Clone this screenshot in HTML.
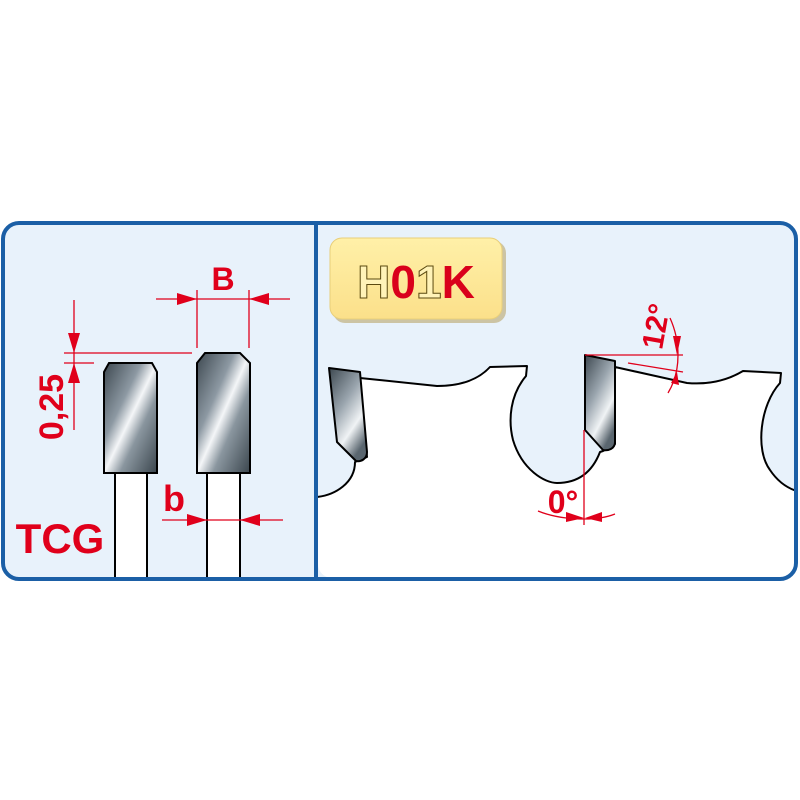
<!DOCTYPE html>
<html><head><style>
html,body{margin:0;padding:0;background:#fff;}
svg{display:block;}
text{font-family:"Liberation Sans",Arial,sans-serif;font-weight:bold;}
</style></head><body>
<svg width="800" height="800" viewBox="0 0 800 800" xmlns="http://www.w3.org/2000/svg">
<defs>
<linearGradient id="steel" x1="0" y1="0" x2="1" y2="1">
<stop offset="0" stop-color="#3d4850"/>
<stop offset="0.35" stop-color="#8d99a3"/>
<stop offset="0.5" stop-color="#f4f6f8"/>
<stop offset="0.65" stop-color="#8a969f"/>
<stop offset="1" stop-color="#3a454d"/>
</linearGradient>
<linearGradient id="steel2" x1="0" y1="0" x2="0.6" y2="1">
<stop offset="0" stop-color="#3d4850"/>
<stop offset="0.45" stop-color="#9aa5ae"/>
<stop offset="0.75" stop-color="#f0f3f5"/>
<stop offset="1" stop-color="#5a666f"/>
</linearGradient>
<linearGradient id="yel" x1="0" y1="0" x2="0" y2="1">
<stop offset="0" stop-color="#fff0a8"/>
<stop offset="1" stop-color="#fbe08a"/>
</linearGradient>
<clipPath id="rc"><rect x="318" y="223" width="477" height="355" rx="14"/></clipPath>
</defs>
<rect x="3" y="223" width="793" height="356" rx="16" fill="#e8f2fb"/>

<!-- LEFT PANEL -->
<g stroke="#000" stroke-width="2">
<rect x="115" y="473" width="32" height="106" fill="#fff"/>
<rect x="207" y="473" width="33" height="106" fill="#fff"/>
<path d="M104 372 L109 363 L152 363 L157 372 L157 473 L104 473 Z" fill="url(#steel)"/>
<path d="M197 363 L205 353 L240 353 L250 363 L250 473 L197 473 Z" fill="url(#steel)"/>
</g>
<g stroke="#e0001b" stroke-width="1.3" fill="none">
<line x1="74" y1="300" x2="74" y2="430"/>
<line x1="64" y1="353" x2="192" y2="353"/>
<line x1="64" y1="363" x2="94" y2="363"/>
<line x1="197" y1="290" x2="197" y2="348"/>
<line x1="249" y1="290" x2="249" y2="348"/>
<line x1="156" y1="299" x2="290" y2="299"/>
<line x1="162" y1="520" x2="283" y2="520"/>
</g>
<g fill="#e0001b">
<polygon points="68,333 80,333 74,353"/>
<polygon points="68,383 80,383 74,363"/>
<polygon points="177,293 177,305 197,299"/>
<polygon points="269,293 269,305 249,299"/>
<polygon points="187,514 187,526 207,520"/>
<polygon points="260,514 260,526 240,520"/>
</g>
<text x="0" y="0" transform="translate(63,407) rotate(-90)" text-anchor="middle" font-size="34" fill="#e0001b">0,25</text>
<text x="223" y="290" text-anchor="middle" font-size="32" fill="#e0001b">B</text>
<text x="174" y="511" text-anchor="middle" font-size="36" fill="#e0001b">b</text>
<text x="60" y="553" text-anchor="middle" font-size="42" fill="#e0001b">TCG</text>

<!-- RIGHT PANEL -->
<rect x="333" y="241" width="173" height="82" rx="12" fill="#b9a56a" opacity="0.6"/>
<rect x="330" y="238" width="172" height="81" rx="12" fill="url(#yel)" stroke="#e8cf7a" stroke-width="1"/>
<text x="416" y="298" text-anchor="middle" font-size="46" stroke-width="1"><tspan fill="#fff3b8" stroke="#5b4a10">H</tspan><tspan fill="#d9001b" stroke="none">0</tspan><tspan fill="#fff3b8" stroke="#5b4a10">1</tspan><tspan fill="#d9001b" stroke="none">K</tspan></text>

<g clip-path="url(#rc)">
<path d="M360 378 L437 386 C460 386 478 380 490 367 L527 366 L526 376 C510 395 508 420 513 440 C522 470 545 483 557 483 C572 483 590 478 600 452 L603 451 L615 444 L615 367 L687 383 C710 385 728 380 743 371 L781 373 L780 383 C760 405 755 450 770 470 C780 485 792 490 800 492 L800 590 L310 590 L310 497 L317 497 C335 495 355 483 355 462 L367 457 Z" fill="#fff" stroke="#000" stroke-width="2" stroke-linejoin="round"/>
</g>
<path d="M329 368 L360 372 L367 452 C367 459 361 462 356 461 L337 442 Z" fill="url(#steel2)" stroke="#000" stroke-width="2" stroke-linejoin="round"/>
<path d="M585 355 L615 361 L615 442 C615 449 608 451 603 450 L585 430 Z" fill="url(#steel2)" stroke="#000" stroke-width="2" stroke-linejoin="round"/>

<g stroke="#e0001b" stroke-width="1.3" fill="none">
<line x1="585" y1="355" x2="683" y2="355"/>
<line x1="628" y1="363" x2="683" y2="372"/>
<path d="M670 318 C680 340 682 370 668 393"/>
<line x1="584" y1="430" x2="584" y2="525"/>
<path d="M538 511 C560 520 595 522 615 514"/>
</g>
<g fill="#e0001b">
<polygon points="673,336 681,336 677,355"/>
<polygon points="671,383 679,385 677,372"/>
<polygon points="566,512 566,522 584,518"/>
<polygon points="602,512 602,522 585,518"/>
</g>
<text x="0" y="0" transform="translate(666,328) rotate(-80)" text-anchor="middle" font-size="30" fill="#e0001b">12°</text>
<text x="563" y="513" text-anchor="middle" font-size="32" fill="#e0001b">0°</text>

<rect x="3" y="223" width="793" height="356" rx="16" fill="none" stroke="#1b5fa6" stroke-width="4"/>
<line x1="316" y1="223" x2="316" y2="579" stroke="#1b5fa6" stroke-width="4"/>
</svg>
</body></html>
